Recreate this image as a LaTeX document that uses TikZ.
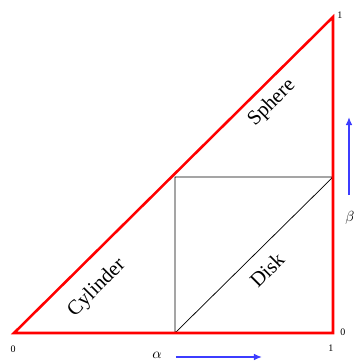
\documentclass[tikz,border=0pt]{standalone}
\usepackage{fontspec}
\setmainfont{Liberation Serif}
\usetikzlibrary{arrows.meta}
\definecolor{arrowblue}{RGB}{60,60,255}
\begin{document}
\begin{tikzpicture}[x=0.75pt,y=-0.75pt,
  redline/.style={draw=red,line width=1.9pt,line join=miter},
  innerline/.style={draw=black,line width=0.55pt},
  lbl/.style={font=\fontsize{15.5}{18}\selectfont,rotate=45,inner sep=0pt},
  tick/.style={font=\fontsize{7.5}{9}\selectfont,inner sep=0pt},
  greek/.style={font=\fontsize{11}{13}\selectfont,inner sep=0pt},
  dirarrow/.style={draw=arrowblue,line width=1.1pt,-{Latex[length=6pt,width=5pt]}}
]
\useasboundingbox (0,0) rectangle (354,362);
\coordinate (A) at (14,333);
\coordinate (B) at (333,333);
\coordinate (C) at (333,17);
\coordinate (M) at (175,333);
\coordinate (N) at (175,177);
\coordinate (P) at (333,177);
\draw[innerline] (M) -- (N) -- (P) -- (M);
\draw[redline] (A) -- (B) -- (C) -- cycle;
\node[lbl] (sph) at (272,103) {Sphere};
\node[lbl] (cyl) at (97,288) {Cylinder};
\node[lbl] (disk) at (267,270) {Disk};
\node[tick] (t0) at (13,349) {0};
\node[tick] (t1) at (331,348) {1};
\node[tick] (r0) at (343,332) {0};
\node[tick] (r1) at (340,15) {1};
\node[greek] (al) at (157,355) {$\alpha$};
\node[greek] (be) at (350,218) {$\beta$};
\coordinate (a1) at (176,357);
\coordinate (a2) at (262,357);
\coordinate (b1) at (349,195);
\coordinate (b2) at (349,117);
\draw[dirarrow] (a1) -- (a2);
\draw[dirarrow] (b1) -- (b2);
\end{tikzpicture}
\end{document}
